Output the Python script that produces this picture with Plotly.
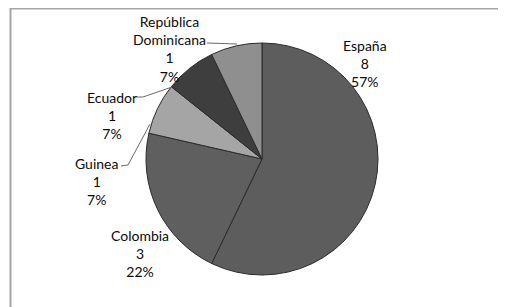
import plotly.graph_objects as go

# Data
countries = ["España", "Colombia", "Guinea", "Ecuador", "República Dominicana"]
label_text = ["España", "Colombia", "Guinea", "Ecuador", "República<br>Dominicana"]
counts = [8, 3, 1, 1, 1]
percent_labels = ["57%", "22%", "7%", "7%", "7%"]
colors = ["#5d5d5d", "#5f5f5f", "#a5a5a5", "#3e3e3e", "#8f8f8f"]

# the page body has an 8px margin: the figure is drawn from (8, 8)
OFF = 8
W, H = 506 - OFF, 307 - OFF
cx, cy, r = 262, 159, 116


def px(x):
    return (x - OFF) / W


def py(y):
    return 1 - (y - OFF) / H


fig = go.Figure(
    go.Pie(
        labels=countries,
        values=counts,
        sort=False,
        direction="clockwise",
        rotation=0,
        marker=dict(colors=colors, line=dict(color="#2a2a2a", width=1)),
        textinfo="none",
        hoverinfo="label+value+percent",
        domain=dict(x=[px(cx - r), px(cx + r)], y=[py(cy + r), py(cy - r)]),
        showlegend=False,
    )
)

# label block centres (pixels)
label_pos = [(365, 63), (140, 253), (96, 182), (112, 115), (169, 49)]

annotations = []
for name, n, pct, (lx, ly) in zip(label_text, counts, percent_labels, label_pos):
    annotations.append(
        dict(
            x=px(lx), y=py(ly), xref="paper", yref="paper",
            text=f"{name}<br>{n}<br>{pct}",
            showarrow=False, xanchor="center", yanchor="middle",
            font=dict(family="Lato, Carlito, sans-serif", size=14, color="#0a0a0a"),
        )
    )

# leader lines (pixel paths)
leaders = [
    [(207, 43), (237, 44)],
    [(137, 97), (143, 97), (172, 87)],
    [(121, 166), (128, 165), (150, 124)],
]
shapes = []
for pts in leaders:
    path = "M " + " L ".join(f"{px(x)},{py(y)}" for x, y in pts)
    shapes.append(dict(type="path", path=path, xref="paper", yref="paper",
                       line=dict(color="#6a6a6a", width=1)))

# outer frame (top and left edges visible in the crop)
frame = [(10.5, 310), (10.5, 8.5), (510, 8.5)]
shapes.append(dict(type="path", xref="paper", yref="paper",
                   path="M " + " L ".join(f"{px(x)},{py(y)}" for x, y in frame),
                   line=dict(color="#a6a6a6", width=2)))

fig.update_layout(
    width=W, height=H,
    margin=dict(l=0, r=0, t=0, b=0),
    paper_bgcolor="white",
    plot_bgcolor="white",
    annotations=annotations,
    shapes=shapes,
)

fig.write_html("out.html")
